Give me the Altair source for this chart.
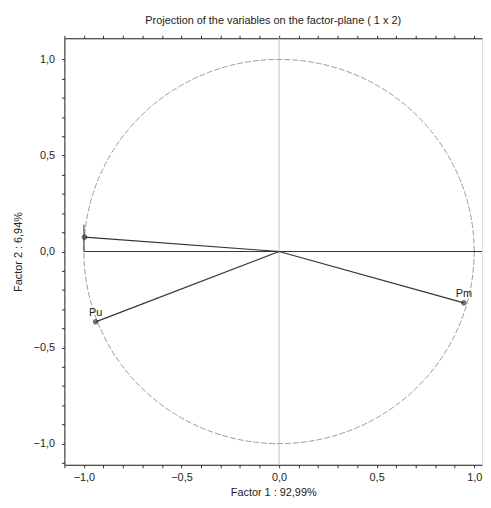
import altair as alt
import pandas as pd
import numpy as np

# variables (loadings on factor 1 and factor 2)
names = ["", "Pu", "Pm"]
f1 = [-0.997, -0.94, 0.947]
f2 = [0.075, -0.366, -0.267]

# extra segments seen in the picture
seg_x = [-1.0, -1.0]
seg_y = [0.0, 0.0]
seg_x2 = [1.04, -1.0]
seg_y2 = [0.0, 0.14]

tick_vals = [round(-1.1 + 0.1 * i, 2) for i in range(22)]

pts = pd.DataFrame({"name": names, "f1": f1, "f2": f2, "x0": 0.0, "y0": 0.0})
segs = pd.DataFrame({"x": seg_x, "y": seg_y, "x2": seg_x2, "y2": seg_y2})
ang = np.linspace(0, 2 * np.pi, 361)
circ = pd.DataFrame({"cx": np.cos(ang), "cy": np.sin(ang), "i": np.arange(361)})

lab = "abs(datum.value*2 - round(datum.value*2)) < 0.001 ? replace(format(datum.value, '.1f'), '.', ',') : ''"
FONT = "Liberation Sans"

xs = alt.Scale(domain=[-1.1, 1.04], nice=False, zero=False)
ys = alt.Scale(domain=[-1.11, 1.11], nice=False, zero=False)

common = dict(values=tick_vals, tickCount=200, grid=False, tickSize=3, tickColor="#333",
              domainColor="#222", labelFont=FONT, titleFont=FONT, labelFontSize=11,
              titleFontSize=11, titleFontWeight="normal", labelColor="#222", titleColor="#222",
              labelFlush=False, labelOverlap=False)
xaxis = alt.Axis(labelExpr=lab, title="Factor 1 : 92,99%", labelPadding=4, titlePadding=4, **common)
yaxis = alt.Axis(labelExpr=lab, title="Factor 2 : 6,94%", labelPadding=7, titlePadding=10, **common)
topaxis = alt.Axis(orient="top", labels=False, title=None, **common)

vline = alt.Chart(pd.DataFrame({"v": [0.0]})).mark_rule(color="#b4c6da", strokeWidth=1).encode(
    x=alt.X("v:Q", scale=xs, axis=xaxis))

topline = alt.Chart(pd.DataFrame({"v": [0.0]})).mark_rule(opacity=0).encode(
    x=alt.X("v:Q", scale=xs, axis=topaxis))

circle = alt.Chart(circ).mark_line(color="#9a9a9a", strokeWidth=1, strokeDash=[6, 2]).encode(
    x=alt.X("cx:Q", scale=xs, axis=None), y=alt.Y("cy:Q", scale=ys, axis=yaxis), order="i:Q")

segments = alt.Chart(segs).mark_rule(color="#333", strokeWidth=1).encode(
    x=alt.X("x:Q", scale=xs, axis=None), y=alt.Y("y:Q", scale=ys), x2="x2:Q", y2="y2:Q")

vectors = alt.Chart(pts).mark_rule(color="#333", strokeWidth=1.2).encode(
    x=alt.X("x0:Q", scale=xs, axis=None), y=alt.Y("y0:Q", scale=ys), x2="f1:Q", y2="f2:Q")

points = alt.Chart(pts).mark_point(shape="circle", size=22, filled=True, color="#444",
                                   stroke="#222", strokeWidth=1).encode(
    x=alt.X("f1:Q", scale=xs, axis=None), y=alt.Y("f2:Q", scale=ys))

labels = alt.Chart(pts).mark_text(font=FONT, fontSize=11, color="#222", dy=-9, align="center").encode(
    x=alt.X("f1:Q", scale=xs, axis=None), y=alt.Y("f2:Q", scale=ys), text="name:N")

chart = alt.layer(vline, topline, circle, segments, vectors, points, labels).resolve_axis(
    x="independent"
).properties(
    width=480, height=492,
    autosize=alt.AutoSizeParams(type="fit", contains="padding"),
    title=alt.Title("Projection of the variables on the factor-plane ( 1 x  2)", font=FONT,
                    fontSize=11, fontWeight="normal", color="#222", offset=9),
    padding={"left": 4, "top": 4, "right": 0, "bottom": 0},
).configure_view(stroke=None).configure(background="white")

chart.save("out.html", embed_options={"renderer": "svg", "actions": False})
